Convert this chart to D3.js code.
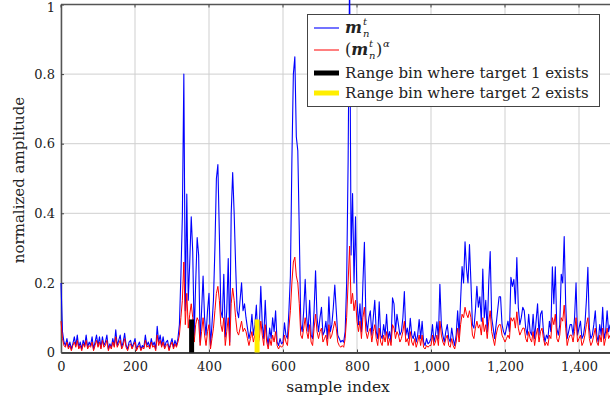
<!DOCTYPE html>
<html>
<head>
<meta charset="utf-8">
<script src="https://cdn.jsdelivr.net/npm/d3@7"></script>
<style>
  body { margin: 0; background: #fff; }
  svg { display: block; }
  text { font-family: "DejaVu Serif", "Liberation Serif", serif; fill: #222; }
</style>
</head>
<body>
<svg id="chart" width="610" height="404"></svg>
<script>
// one value every 4 samples
const sampleStep = 4;

const magnitude = [
  0.20, 0.06, 0.03, 0.02, 0.04, 0.015, 0.03, 0.01, 0.025, 0.045, 0.02, 0.05, 0.015, 0.03, 0.01, 0.035, 0.02, 0.05, 0.015, 0.03, 0.02, 0.045, 0.01, 0.03, 0.05,
  0.02, 0.045, 0.015, 0.045, 0.02, 0.03, 0.05, 0.01, 0.025, 0.015, 0.04, 0.02, 0.065, 0.02, 0.035, 0.05, 0.015, 0.03, 0.055, 0.02, 0.01, 0.03, 0.035, 0.015, 0.025,
  0.04, 0.01, 0.02, 0.03, 0.01, 0.02, 0.015, 0.05, 0.02, 0.03, 0.015, 0.04, 0.02, 0.03, 0.01, 0.075, 0.03, 0.05, 0.02, 0.045, 0.015, 0.03, 0.035, 0.01, 0.025,
  0.04, 0.015, 0.035, 0.02, 0.04, 0.08, 0.22, 0.39, 0.80, 0.12, 0.455, 0.15, 0.26, 0.39, 0.29, 0.05, 0.2, 0.33, 0.28, 0.03, 0.12, 0.22, 0.1, 0.05, 0.12,
  0.17, 0.02, 0.08, 0.15, 0.3, 0.5, 0.54, 0.34, 0.12, 0.1, 0.225, 0.045, 0.12, 0.27, 0.03, 0.4, 0.517, 0.4, 0.25, 0.12, 0.1, 0.15, 0.2, 0.12, 0.14,
  0.1, 0.07, 0.04, 0.06, 0.11, 0.05, 0.08, 0.136, 0.04, 0.07, 0.19, 0.08, 0.04, 0.15, 0.05, 0.02, 0.07, 0.04, 0.1, 0.06, 0.12, 0.03, 0.02, 0.04, 0.025,
  0.03, 0.085, 0.05, 0.04, 0.12, 0.22, 0.55, 0.8, 0.85, 0.62, 0.58, 0.35, 0.08, 0.06, 0.12, 0.21, 0.1, 0.06, 0.15, 0.05, 0.04, 0.12, 0.235, 0.1, 0.06,
  0.1, 0.13, 0.05, 0.06, 0.09, 0.04, 0.16, 0.06, 0.08, 0.13, 0.194, 0.12, 0.05, 0.04, 0.03, 0.035, 0.03, 0.06, 0.2, 0.55, 1.1, 0.28, 0.457, 0.2, 0.39,
  0.15, 0.08, 0.14, 0.06, 0.2, 0.317, 0.1, 0.06, 0.1, 0.12, 0.05, 0.1, 0.15, 0.06, 0.04, 0.146, 0.05, 0.04, 0.08, 0.05, 0.11, 0.04, 0.06, 0.03, 0.157,
  0.14, 0.06, 0.11, 0.08, 0.05, 0.06, 0.1, 0.175, 0.05, 0.07, 0.04, 0.098, 0.05, 0.04, 0.06, 0.03, 0.05, 0.095, 0.04, 0.09, 0.03, 0.02, 0.04, 0.025, 0.03,
  0.04, 0.08, 0.03, 0.05, 0.088, 0.04, 0.196, 0.08, 0.05, 0.03, 0.06, 0.08, 0.04, 0.03, 0.07, 0.04, 0.02, 0.05, 0.12, 0.05, 0.15, 0.247, 0.2, 0.318, 0.24,
  0.2, 0.31, 0.2, 0.08, 0.07, 0.12, 0.19, 0.13, 0.16, 0.09, 0.24, 0.1, 0.15, 0.06, 0.2, 0.29, 0.1, 0.07, 0.04, 0.08, 0.12, 0.16, 0.16, 0.08, 0.06,
  0.05, 0.07, 0.09, 0.06, 0.216, 0.19, 0.21, 0.14, 0.273, 0.13, 0.08, 0.1, 0.13, 0.12, 0.07, 0.05, 0.11, 0.06, 0.05, 0.11, 0.04, 0.09, 0.14, 0.05, 0.11,
  0.12, 0.06, 0.03, 0.05, 0.04, 0.09, 0.06, 0.246, 0.14, 0.246, 0.07, 0.05, 0.08, 0.225, 0.2, 0.333, 0.14, 0.04, 0.06, 0.08, 0.08, 0.05, 0.1, 0.2, 0.05,
  0.07, 0.09, 0.04, 0.05, 0.08, 0.15, 0.245, 0.07, 0.04, 0.05, 0.08, 0.12, 0.05, 0.03, 0.08, 0.05, 0.13, 0.04, 0.06, 0.12, 0.06, 0.08
];

const magnitudeAlpha = [
  0.09, 0.04, 0.02, 0.015, 0.03, 0.01, 0.02, 0.005, 0.02, 0.03, 0.015, 0.035, 0.01, 0.02, 0.005, 0.025, 0.015, 0.035, 0.01, 0.02, 0.015, 0.03, 0.005, 0.02, 0.035,
  0.015, 0.03, 0.01, 0.035, 0.015, 0.02, 0.035, 0.005, 0.02, 0.01, 0.03, 0.015, 0.045, 0.015, 0.025, 0.035, 0.01, 0.02, 0.04, 0.015, 0.005, 0.02, 0.025, 0.01, 0.02,
  0.03, 0.005, 0.015, 0.02, 0.005, 0.015, 0.01, 0.035, 0.015, 0.02, 0.01, 0.03, 0.015, 0.02, 0.005, 0.05, 0.02, 0.035, 0.015, 0.03, 0.01, 0.02, 0.025, 0.005, 0.02,
  0.03, 0.01, 0.025, 0.015, 0.03, 0.05, 0.1, 0.15, 0.26, 0.08, 0.17, 0.07, 0.11, 0.14, 0.1, 0.03, 0.08, 0.1, 0.09, 0.02, 0.06, 0.1, 0.05, 0.02, 0.06,
  0.08, 0.01, 0.04, 0.07, 0.12, 0.17, 0.19, 0.15, 0.08, 0.06, 0.1, 0.02, 0.06, 0.1, 0.02, 0.14, 0.185, 0.15, 0.1, 0.06, 0.05, 0.07, 0.09, 0.06, 0.07,
  0.06, 0.04, 0.02, 0.04, 0.06, 0.03, 0.05, 0.07, 0.02, 0.04, 0.09, 0.05, 0.02, 0.08, 0.03, 0.01, 0.04, 0.02, 0.05, 0.03, 0.06, 0.02, 0.01, 0.02, 0.015,
  0.02, 0.05, 0.03, 0.02, 0.07, 0.12, 0.2, 0.26, 0.274, 0.22, 0.2, 0.14, 0.05, 0.04, 0.07, 0.1, 0.06, 0.04, 0.08, 0.03, 0.02, 0.07, 0.11, 0.06, 0.04,
  0.06, 0.07, 0.03, 0.04, 0.05, 0.02, 0.08, 0.04, 0.05, 0.07, 0.09, 0.07, 0.03, 0.02, 0.015, 0.02, 0.015, 0.04, 0.1, 0.2, 0.306, 0.14, 0.17, 0.12, 0.15,
  0.09, 0.06, 0.09, 0.04, 0.1, 0.13, 0.06, 0.04, 0.06, 0.07, 0.03, 0.06, 0.08, 0.04, 0.02, 0.07, 0.03, 0.02, 0.05, 0.03, 0.06, 0.02, 0.04, 0.02, 0.08,
  0.07, 0.04, 0.06, 0.05, 0.03, 0.04, 0.06, 0.09, 0.03, 0.04, 0.02, 0.06, 0.03, 0.02, 0.04, 0.015, 0.03, 0.05, 0.02, 0.05, 0.015, 0.01, 0.02, 0.015, 0.02,
  0.02, 0.05, 0.02, 0.03, 0.05, 0.02, 0.09, 0.05, 0.03, 0.02, 0.04, 0.05, 0.02, 0.015, 0.04, 0.02, 0.01, 0.03, 0.07, 0.03, 0.08, 0.11, 0.1, 0.13, 0.11,
  0.1, 0.12, 0.1, 0.05, 0.04, 0.07, 0.09, 0.07, 0.08, 0.05, 0.1, 0.06, 0.08, 0.04, 0.09, 0.12, 0.06, 0.04, 0.02, 0.05, 0.07, 0.08, 0.08, 0.05, 0.04,
  0.03, 0.04, 0.05, 0.04, 0.1, 0.09, 0.1, 0.07, 0.117, 0.07, 0.05, 0.06, 0.07, 0.07, 0.04, 0.03, 0.06, 0.04, 0.03, 0.06, 0.02, 0.05, 0.07, 0.03, 0.06,
  0.07, 0.04, 0.02, 0.03, 0.02, 0.05, 0.04, 0.1, 0.08, 0.11, 0.04, 0.03, 0.05, 0.1, 0.09, 0.136, 0.07, 0.02, 0.04, 0.05, 0.05, 0.03, 0.06, 0.1, 0.03,
  0.04, 0.05, 0.02, 0.03, 0.05, 0.08, 0.1, 0.04, 0.02, 0.03, 0.05, 0.07, 0.03, 0.02, 0.05, 0.03, 0.07, 0.02, 0.04, 0.07, 0.04, 0.05
];

// range bins where the targets sit
const targetBins = [353, 530];
const targetLevels = [0.095, 0.095];
const targetColors = ["#000000", "#ffee00"];

const xTicks = [0, 200, 400, 600, 800, 1000, 1200, 1400];
const yTicks = [0, 0.2, 0.4, 0.6, 0.8, 1];
const legendLabels = ["Range bin where target 1 exists", "Range bin where target 2 exists"];

const width = 610, height = 404;
const margin = { top: 4.5, right: -6, bottom: 51.5, left: 61 };

var svg = d3.select("#chart");

var x = d3.scaleLinear()
  .domain([0, 1500])
  .range([margin.left, width - margin.right]);

var y = d3.scaleLinear()
  .domain([0, 1])
  .range([height - margin.bottom, margin.top]);

// grid
svg.append("g")
  .selectAll("line")
  .data(xTicks)
  .join("line")
  .attr("x1", d => x(d)).attr("x2", d => x(d))
  .attr("y1", y(0)).attr("y2", y(1))
  .attr("stroke", "#cfcfcf")
  .attr("stroke-width", 1);

svg.append("g")
  .selectAll("line")
  .data(yTicks)
  .join("line")
  .attr("x1", x(0)).attr("x2", x(1500))
  .attr("y1", d => y(d)).attr("y2", d => y(d))
  .attr("stroke", "#cfcfcf")
  .attr("stroke-width", 1);

// axes (ticks pointing inward like pgfplots)
var xAxis = g => g
  .attr("transform", `translate(0,${y(0)})`)
  .call(d3.axisBottom(x).tickValues(xTicks).tickFormat(d3.format(",")).tickSizeInner(-3).tickSizeOuter(0).tickPadding(9))
  .call(g => g.select(".domain").attr("stroke", "#111").attr("stroke-width", 1.3))
  .call(g => g.selectAll(".tick line").attr("stroke", "#444"))
  .call(g => g.selectAll("text").attr("font-size", 13).attr("fill", "#222")
    .attr("font-family", "DejaVu Serif"));

var yAxis = g => g
  .attr("transform", `translate(${x(0)},0)`)
  .call(d3.axisLeft(y).tickValues(yTicks).tickFormat(d => d === 0 || d === 1 ? d : d3.format(".1f")(d)).tickSizeInner(-3).tickSizeOuter(0).tickPadding(6))
  .call(g => g.select(".domain").attr("stroke", "#555").attr("stroke-width", 1.5))
  .call(g => g.selectAll(".tick line").attr("stroke", "#444"))
  .call(g => g.selectAll("text").attr("font-size", 13).attr("fill", "#222")
    .attr("font-family", "DejaVu Serif"))
  .call(g => g.selectAll(".tick").filter(d => d === 1).select("text").attr("dy", "0.5em"));

svg.append("g").call(xAxis);
svg.append("g").call(yAxis);

// top border with inward ticks
svg.append("line")
  .attr("x1", x(0)).attr("x2", width)
  .attr("y1", y(1)).attr("y2", y(1))
  .attr("stroke", "#555").attr("stroke-width", 1.3);

svg.append("g")
  .selectAll("line")
  .data(xTicks)
  .join("line")
  .attr("x1", d => x(d)).attr("x2", d => x(d))
  .attr("y1", y(1)).attr("y2", y(1) + 3)
  .attr("stroke", "#444");

// series
var line = d3.line()
  .x((d, i) => x(i * sampleStep))
  .y(d => y(d));

svg.append("path")
  .datum(magnitude)
  .attr("fill", "none")
  .attr("stroke", "#0000ff")
  .attr("stroke-width", 1.1)
  .attr("stroke-linejoin", "round")
  .attr("d", line);

svg.append("path")
  .datum(magnitudeAlpha)
  .attr("fill", "none")
  .attr("stroke", "#ff0000")
  .attr("stroke-width", 1)
  .attr("stroke-linejoin", "round")
  .attr("d", line);

svg.append("g")
  .selectAll("line")
  .data(targetBins)
  .join("line")
  .attr("x1", d => x(d)).attr("x2", d => x(d))
  .attr("y1", y(0))
  .attr("y2", (d, i) => y(targetLevels[i]))
  .attr("stroke", (d, i) => targetColors[i])
  .attr("stroke-width", 5);

// axis labels
svg.append("text")
  .attr("x", 338).attr("y", 392)
  .attr("text-anchor", "middle")
  .attr("font-size", 15.5)
  .text("sample index");

svg.append("text")
  .attr("transform", "translate(24,180) rotate(-90)")
  .attr("text-anchor", "middle")
  .attr("font-size", 15)
  .text("normalized amplitude");

// legend
var legend = svg.append("g");

legend.append("rect")
  .attr("x", 307.5).attr("y", 14.5)
  .attr("width", 292).attr("height", 92)
  .attr("fill", "#fff")
  .attr("stroke", "#444")
  .attr("stroke-width", 1);

var rowsY = [28, 50, 73, 93];
var rowColors = ["#0000ff", "#ff0000"].concat(targetColors);
var rowWidths = [1.1, 1, 5, 5];

legend.selectAll("line")
  .data(rowsY)
  .join("line")
  .attr("x1", 314).attr("x2", 339)
  .attr("y1", d => d).attr("y2", d => d)
  .attr("stroke", (d, i) => rowColors[i])
  .attr("stroke-width", (d, i) => rowWidths[i]);

// m_n^t
var t1 = legend.append("text").attr("x", 345).attr("y", 33).attr("font-size", 16);
t1.append("tspan").attr("font-weight", "bold").attr("font-style", "italic").text("m");
legend.append("text").attr("x", 363).attr("y", 25).attr("font-size", 10).attr("font-style", "italic").text("t");
legend.append("text").attr("x", 363).attr("y", 37).attr("font-size", 10).attr("font-style", "italic").text("n");

// (m_n^t)^alpha
var t2 = legend.append("text").attr("x", 345).attr("y", 55).attr("font-size", 16);
t2.append("tspan").text("(");
t2.append("tspan").attr("font-weight", "bold").attr("font-style", "italic").text("m");
legend.append("text").attr("x", 369).attr("y", 47).attr("font-size", 10).attr("font-style", "italic").text("t");
legend.append("text").attr("x", 369).attr("y", 59).attr("font-size", 10).attr("font-style", "italic").text("n");
legend.append("text").attr("x", 376).attr("y", 55).attr("font-size", 16).text(")");
legend.append("text").attr("x", 383).attr("y", 47).attr("font-size", 10).attr("font-style", "italic").text("α");

legend.selectAll("text.lab")
  .data(legendLabels)
  .join("text")
  .attr("class", "lab")
  .attr("x", 345)
  .attr("y", (d, i) => rowsY[i + 2] + 5)
  .attr("font-size", 15)
  .text(d => d);
</script>
</body>
</html>
